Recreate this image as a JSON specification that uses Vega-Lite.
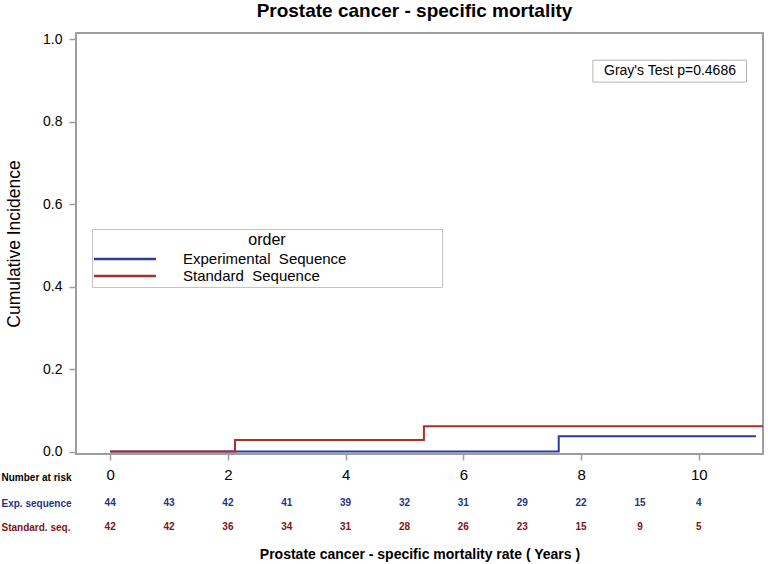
{
  "$schema": "https://vega.github.io/schema/vega-lite/v6.json",
  "background": "white",
  "padding": {"left": 0, "top": 1, "right": 3, "bottom": 4},
  "config": {"font": "Liberation Sans", "view": {"stroke": null}},
  "datasets": {
    "curves": [
      {"order": "Experimental Sequence", "time": 0, "ci": 0},
      {"order": "Experimental Sequence", "time": 7.62, "ci": 0.037},
      {"order": "Experimental Sequence", "time": 10.97, "ci": 0.037},
      {"order": "Standard Sequence", "time": 0, "ci": 0},
      {"order": "Standard Sequence", "time": 2.12, "ci": 0.028},
      {"order": "Standard Sequence", "time": 5.33, "ci": 0.061},
      {"order": "Standard Sequence", "time": 11.09, "ci": 0.061}
    ],
    "risk": [
      {"row": "Exp. sequence", "time": 0, "n": 44},
      {"row": "Exp. sequence", "time": 1, "n": 43},
      {"row": "Exp. sequence", "time": 2, "n": 42},
      {"row": "Exp. sequence", "time": 3, "n": 41},
      {"row": "Exp. sequence", "time": 4, "n": 39},
      {"row": "Exp. sequence", "time": 5, "n": 32},
      {"row": "Exp. sequence", "time": 6, "n": 31},
      {"row": "Exp. sequence", "time": 7, "n": 29},
      {"row": "Exp. sequence", "time": 8, "n": 22},
      {"row": "Exp. sequence", "time": 9, "n": 15},
      {"row": "Exp. sequence", "time": 10, "n": 4},
      {"row": "Standard. seq.", "time": 0, "n": 42},
      {"row": "Standard. seq.", "time": 1, "n": 42},
      {"row": "Standard. seq.", "time": 2, "n": 36},
      {"row": "Standard. seq.", "time": 3, "n": 34},
      {"row": "Standard. seq.", "time": 4, "n": 31},
      {"row": "Standard. seq.", "time": 5, "n": 28},
      {"row": "Standard. seq.", "time": 6, "n": 26},
      {"row": "Standard. seq.", "time": 7, "n": 23},
      {"row": "Standard. seq.", "time": 8, "n": 15},
      {"row": "Standard. seq.", "time": 9, "n": 9},
      {"row": "Standard. seq.", "time": 10, "n": 5}
    ]
  },
  "spacing": 8,
  "resolve": {"scale": {"x": "independent"}, "axis": {"x": "independent"}},
  "vconcat": [
    {
      "width": 687,
      "height": 421,
      "title": {
        "text": "Prostate cancer - specific mortality",
        "fontSize": 19,
        "fontWeight": "bold",
        "color": "black",
        "frame": "group",
        "anchor": "middle",
        "offset": 11,
        "dx": -5
      },
      "view": {"stroke": "#9e9e9e", "strokeWidth": 2},
      "layer": [
        {
          "data": {"name": "curves"},
          "mark": {"type": "line", "interpolate": "step-after", "strokeWidth": 2, "clip": true},
          "encoding": {
            "x": {
              "field": "time",
              "type": "quantitative",
              "scale": {"domain": [-0.58, 11.09], "nice": false, "zero": false},
              "axis": {
                "values": [0, 2, 4, 6, 8, 10],
                "format": "d",
                "grid": false,
                "domain": false,
                "tickColor": "#9e9e9e",
                "tickWidth": 1.5,
                "tickSize": 6,
                "labelFontSize": 15,
                "labelColor": "black",
                "labelPadding": 7,
                "title": "Number at risk",
                "titleFontSize": 10,
                "titleFontWeight": "bold",
                "titleColor": "black",
                "titleX": -75,
                "titleY": 23,
                "titleAlign": "left",
                "titleAnchor": "start",
                "titleBaseline": "middle"
              }
            },
            "y": {
              "field": "ci",
              "type": "quantitative",
              "scale": {"domain": [-0.006, 1.015], "nice": false, "zero": false},
              "axis": {
                "values": [0, 0.2, 0.4, 0.6, 0.8, 1],
                "format": ".1f",
                "grid": false,
                "domain": false,
                "tickColor": "#9e9e9e",
                "tickWidth": 1.5,
                "tickSize": 7,
                "labelFontSize": 14,
                "labelColor": "black",
                "labelPadding": 7,
                "title": "Cumulative Incidence",
                "titleFontSize": 17.5,
                "titleFontWeight": "normal",
                "titleColor": "black",
                "titlePadding": 19
              }
            },
            "color": {
              "field": "order",
              "type": "nominal",
              "scale": {
                "domain": ["Experimental Sequence", "Standard Sequence"],
                "range": ["#2b3d96", "#a8302a"]
              },
              "legend": {
                "orient": "none",
                "legendX": 16,
                "legendY": 196,
                "title": "order",
                "titleFontSize": 16,
                "titleFontWeight": "normal",
                "titleColor": "black",
                "titleAnchor": "middle",
                "titlePadding": 2,
                "labelFontSize": 15,
                "labelColor": "black",
                "labelOffset": 49,
                "labelLimit": 400,
                "labelExpr": "replace(datum.label, ' ', '\u00a0\u00a0') + '\u00a0\u00a0\u00a0\u00a0\u00a0\u00a0\u00a0\u00a0\u00a0\u00a0\u00a0\u00a0\u00a0\u00a0\u00a0\u00a0\u00a0\u00a0\u00a0\u00a0\u00a0\u00a0\u200b'",
                "symbolType": "M-4,0H4",
                "symbolSize": 240,
                "symbolStrokeWidth": 2.5,
                "symbolOffset": 21,
                "strokeColor": "#c4c4c4",
                "fillColor": "white",
                "padding": 3,
                "rowPadding": 0
              }
            },
            "order": {"field": "time", "type": "quantitative"}
          }
        },
        {
          "data": {"values": [{}]},
          "mark": {"type": "rect", "fill": "white", "stroke": "#b4b4b4", "strokeWidth": 1},
          "encoding": {
            "x": {"datum": 8.2},
            "x2": {"datum": 10.81},
            "y": {"datum": 0.949},
            "y2": {"datum": 0.896}
          }
        },
        {
          "data": {"values": [{}]},
          "mark": {"type": "text", "text": "Gray's Test p=0.4686", "fontSize": 14, "color": "black", "align": "center", "baseline": "middle"},
          "encoding": {
            "x": {"datum": 9.51},
            "y": {"datum": 0.922}
          }
        }
      ]
    },
    {
      "width": 687,
      "height": 48,
      "data": {"name": "risk"},
      "mark": {"type": "text", "fontWeight": "bold", "fontSize": 10},
      "encoding": {
        "x": {
          "field": "time",
          "type": "quantitative",
          "scale": {"domain": [-0.58, 11.09], "nice": false, "zero": false},
          "axis": {
            "title": "Prostate cancer - specific mortality rate ( Years )",
            "labels": false,
            "ticks": false,
            "domain": false,
            "grid": false,
            "titleFontSize": 14,
            "titleFontWeight": "bold",
            "titleColor": "black",
            "titlePadding": 8
          }
        },
        "y": {
          "field": "row",
          "type": "nominal",
          "scale": {"domain": ["Exp. sequence", "Standard. seq."]},
          "axis": {
            "title": null,
            "domain": false,
            "ticks": false,
            "grid": false,
            "labelAlign": "left",
            "labelPadding": 75,
            "labelFontWeight": "bold",
            "labelFontSize": 10,
            "labelColor": {
              "condition": {"test": "datum.value === 'Exp. sequence'", "value": "#1f3580"},
              "value": "#7f1414"
            }
          }
        },
        "text": {"field": "n", "type": "quantitative"},
        "fill": {
          "field": "row",
          "type": "nominal",
          "scale": {"domain": ["Exp. sequence", "Standard. seq."], "range": ["#1f3580", "#7f1414"]},
          "legend": null
        }
      }
    }
  ]
}
